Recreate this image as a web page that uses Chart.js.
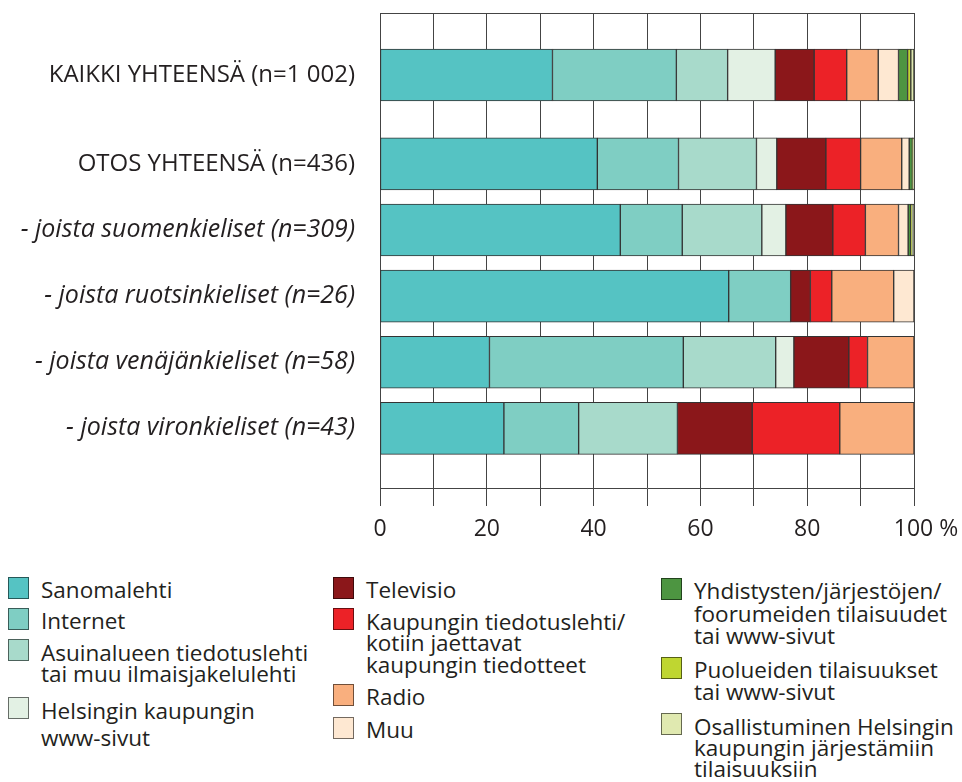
<!DOCTYPE html>
<html><head><meta charset="utf-8">
<script src="https://cdn.jsdelivr.net/npm/chart.js@4"></script>
<style>
body{margin:0;background:#fff;font-family:"Open Sans",sans-serif;color:#231f20}
#wrap{position:relative;width:962px;height:782px;overflow:hidden}
canvas{position:absolute;left:0;top:0}
.sw{position:absolute;width:21px;height:22px;box-sizing:border-box;border:1px solid rgba(0,0,0,0.55)}
.lt{position:absolute;font-size:22.5px;white-space:pre;color:#231f20}
</style></head>
<body><div id="wrap"><canvas id="c" width="962" height="560"></canvas><div id="legend"></div></div>
<script>
// ---- data ----
const categories = ['KAIKKI YHTEENSÄ (n=1 002)', 'OTOS YHTEENSÄ (n=436)', '- joista suomenkieliset (n=309)', '- joista ruotsinkieliset (n=26)', '- joista venäjänkieliset (n=58)', '- joista vironkieliset (n=43)'];
const seriesNames = ['Sanomalehti', 'Internet', 'Asuinalueen tiedotuslehti\ntai muu ilmaisjakelulehti', 'Helsingin kaupungin\nwww-sivut', 'Televisio', 'Kaupungin tiedotuslehti/\nkotiin jaettavat\nkaupungin tiedotteet', 'Radio', 'Muu', 'Yhdistysten/järjestöjen/\nfoorumeiden tilaisuudet\ntai www-sivut', 'Puolueiden tilaisuukset\ntai www-sivut', 'Osallistuminen Helsingin\nkaupungin järjestämiin\ntilaisuuksiin'];
const sanomalehti    = [32.3, 40.7, 45.0, 65.3, 20.5, 23.2];
const internet       = [23.2, 15.2, 11.6, 11.6, 36.3, 14.0];
const asuinalue      = [9.6, 14.6, 14.9, 0, 17.3, 18.5];
const kaupunkiWww    = [8.9, 3.8, 4.5, 0, 3.4, 0];
const televisio      = [7.3, 9.2, 8.8, 3.7, 10.3, 14.0];
const tiedotuslehti  = [6.1, 6.5, 6.1, 4.0, 3.5, 16.4];
const radio          = [5.9, 7.7, 6.2, 11.6, 8.7, 13.9];
const muu            = [3.8, 1.4, 1.8, 3.8, 0, 0];
const yhdistykset    = [1.7, 0.6, 0.5, 0, 0, 0];
const puolueet       = [0.6, 0.1, 0.2, 0, 0, 0];
const osallistuminen = [0.6, 0.2, 0.4, 0, 0, 0];
const xTickLabels = [0, 20, 40, 60, 80, 100];

// ---- styling / layout ----
const colors = ['#55c3c3', '#7fcec3', '#a8dacb', '#e3f1e4', '#8b171a', '#ec2227', '#f9af7e', '#fee8d2', '#4d9541', '#bfd631', '#e0e9b0'];
const allSeries = [sanomalehti, internet, asuinalue, kaupunkiWww, televisio, tiedotuslehti, radio, muu, yhdistykset, puolueet, osallistuminen];
const firstGap = 1.344;             // extra space after first row (in row units)
const rowPos = categories.map((_, i) => i === 0 ? 0 : i + firstGap - 1);
const FONT = '"Open Sans", sans-serif';

const frame = {
  id: 'frame',
  afterDraw(chart) {
    const {ctx, chartArea: a} = chart;
    ctx.save();
    ctx.strokeStyle = '#444'; ctx.lineWidth = 1;
    ctx.beginPath(); ctx.moveTo(a.left, Math.round(a.top) + 0.5); ctx.lineTo(a.right + 1, Math.round(a.top) + 0.5); ctx.stroke();
    ctx.restore();
  }
};

const chart = new Chart(document.getElementById('c'), {
  type: 'bar',
  data: {
    datasets: allSeries.map((vals, s) => ({
      label: seriesNames[s],
      data: vals.map((v, i) => ({x: v, y: rowPos[i]})),
      backgroundColor: colors[s],
      borderColor: '#333',
      borderWidth: 1,
      borderSkipped: false,
      barThickness: 52
    }))
  },
  options: {
    indexAxis: 'y',
    responsive: false,
    animation: false,
    devicePixelRatio: 1,
    layout: {padding: {top: 13, right: 48, left: 0, bottom: 0}},
    plugins: {legend: {display: false}, tooltip: {enabled: false}},
    scales: {
      x: {
        type: 'linear', stacked: true, min: 0, max: 100, position: 'bottom',
        grid: {color: '#444', lineWidth: 1, tickLength: 18, tickColor: '#444'},
        border: {color: '#444'},
        ticks: {
          stepSize: 10, autoSkip: false, maxRotation: 0, padding: 10,
          color: '#231f20', font: {family: FONT, size: 23},
          callback: v => xTickLabels.includes(v) ? (v === 100 ? '    100 %' : String(v)) : ''
        },
        afterFit: s => { s.height = 72; s.paddingLeft = 0; s.paddingRight = 0; }
      },
      y: {
        type: 'linear', stacked: true, reverse: true, bounds: 'data', offset: false,
        min: -0.937, max: rowPos[rowPos.length - 1] + 0.902,
        grid: {display: false, drawTicks: false, offset: false},
        border: {color: '#444'},
        afterBuildTicks: s => { s.ticks = rowPos.map(v => ({value: v})); },
        ticks: {
          autoSkip: false, padding: 25, color: '#231f20',
          font: ctx => (ctx.index >= 2 ? {family: FONT, size: 25, style: 'italic'} : {family: FONT, size: 24, style: 'normal'}),
          callback: (v, i) => categories[i]
        },
        afterFit: s => { s.width = 380; s.paddingTop = 0; s.paddingBottom = 0; }
      }
    }
  },
  plugins: [frame]
});

// ---- HTML legend ----
const legendPos = [[8, 577], [8, 608], [8, 639], [8, 697], [333, 577], [333, 608], [333, 684], [333, 717], [661, 578], [661, 657], [661, 713]];
const legendLH = [22, 22, 21, 27, 22, 21.5, 22, 22, 22.8, 21.7, 21.3];
const leg = document.getElementById('legend');
chart.data.datasets.forEach((ds, i) => {
  const [x, y] = legendPos[i];
  const sw = document.createElement('div');
  sw.className = 'sw';
  sw.style.left = x + 'px'; sw.style.top = y + 'px';
  sw.style.background = ds.backgroundColor;
  leg.appendChild(sw);
  const t = document.createElement('div');
  t.className = 'lt';
  const L = legendLH[i];
  t.style.lineHeight = L + 'px';
  t.style.left = (x + 33) + 'px';
  t.style.top = (y + 22 - L / 2 - 8.7) + 'px';
  t.textContent = ds.label;
  leg.appendChild(t);
});
</script>
</body></html>
